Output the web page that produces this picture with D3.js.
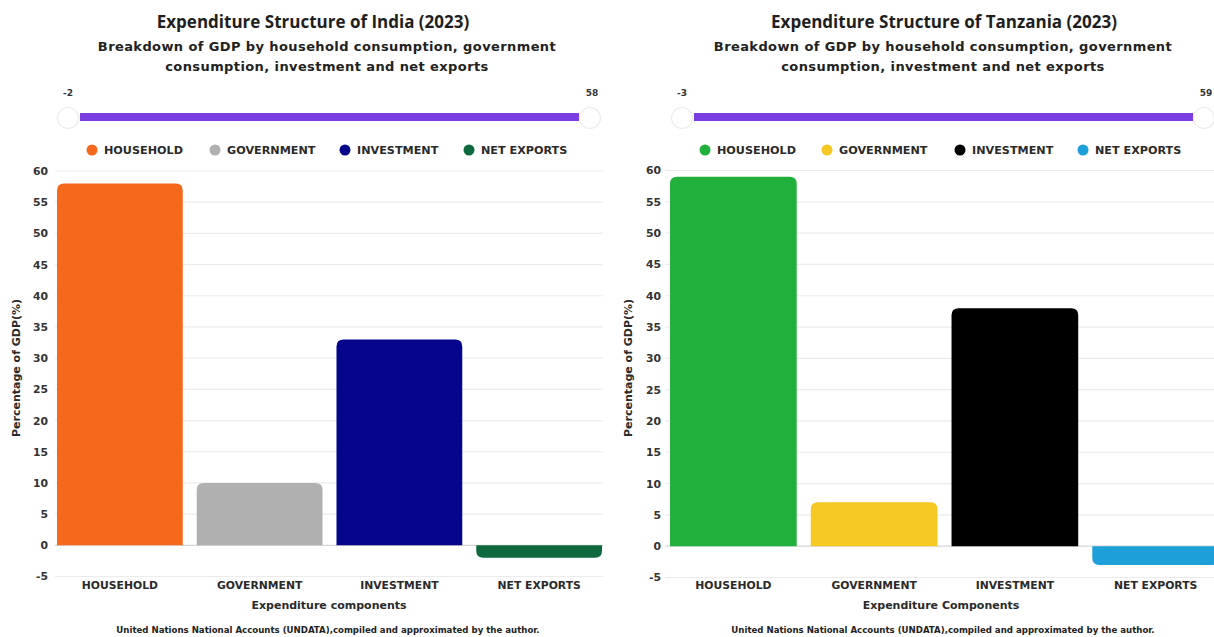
<!DOCTYPE html>
<html>
<head>
<meta charset="utf-8">
<script src="https://cdn.jsdelivr.net/npm/d3@7"></script>
<style>
  html, body { margin: 0; padding: 0; background: #fff; }
  svg { display: block; font-family: "DejaVu Sans", sans-serif; }
</style>
</head>
<body>
<svg id="chart" width="1214" height="637"></svg>
<script>
// Expenditure components shown in both panels
const categories = ["HOUSEHOLD", "GOVERNMENT", "INVESTMENT", "NET EXPORTS"];

// Share of GDP (%), 2023
const indiaValues = [58, 10, 33, -2];
const tanzaniaValues = [59, 7, 38, -3];

// Bar colours per panel
const indiaColors = ["#F5691C", "#B0B0B0", "#05058C", "#0E6A3E"];
const tanzaniaColors = ["#22B03C", "#F6C823", "#000000", "#1DA0DA"];

// Shared y ticks
const yTicks = [60, 55, 50, 45, 40, 35, 30, 25, 20, 15, 10, 5, 0, -5];

const subtitleLines = [
  "Breakdown of GDP by household consumption, government",
  "consumption, investment and net exports"
];
const sourceText = "United Nations National Accounts (UNDATA),compiled and approximated by the author.";

const labelFont = '"DejaVu Sans", sans-serif';
const titleFont = '"Open Sans", sans-serif';

const svg = d3.select("#chart");

function rounded(x, y, w, h, r, top) {
  // rectangle with rounded corners on the outer end only
  r = Math.min(r, h);
  if (top) {
    return `M${x},${y + h} L${x},${y + r} Q${x},${y} ${x + r},${y} L${x + w - r},${y} Q${x + w},${y} ${x + w},${y + r} L${x + w},${y + h} Z`;
  }
  return `M${x},${y} L${x + w},${y} L${x + w},${y + h - r} Q${x + w},${y + h} ${x + w - r},${y + h} L${x + r},${y + h} Q${x},${y + h} ${x},${y + h - r} Z`;
}

function panel(cfg) {
  const g = svg.append("g");
  const values = cfg.values;

  // Titles
  g.append("text").attr("x", cfg.titleX).attr("y", 28)
    .attr("text-anchor", "middle").attr("font-family", titleFont)
    .attr("font-size", 17).attr("font-weight", 700)
    .attr("fill", "#1e1e1e").text(cfg.title);
  subtitleLines.forEach((t, i) => {
    g.append("text").attr("x", cfg.subX).attr("y", 51 + i * 20)
      .attr("text-anchor", "middle").attr("font-size", 13).attr("font-weight", 700)
      .attr("letter-spacing", 0.4).attr("fill", "#222").text(t);
  });

  // Range slider showing min and max of the data
  const lo = d3.min(values), hi = d3.max(values);
  g.append("text").attr("x", cfg.sliderL).attr("y", 96).attr("text-anchor", "middle")
    .attr("font-size", 9).attr("font-weight", 700).attr("fill", "#333").text(String(lo));
  g.append("text").attr("x", cfg.sliderR + 2).attr("y", 96).attr("text-anchor", "middle")
    .attr("font-size", 9).attr("font-weight", 700).attr("fill", "#333").text(String(hi));
  g.append("rect").attr("x", cfg.sliderL + 12).attr("y", 113)
    .attr("width", cfg.sliderR - cfg.sliderL - 23).attr("height", 8)
    .attr("fill", "#7A3DE0");
  [cfg.sliderL, cfg.sliderR].forEach(cx => {
    g.append("circle").attr("cx", cx).attr("cy", 118).attr("r", 10.5)
      .attr("fill", "#fff").attr("stroke", "#ececec").attr("stroke-width", 1.2);
  });

  // Legend
  categories.forEach((c, i) => {
    const lx = cfg.legendX[i];
    g.append("circle").attr("cx", lx).attr("cy", 150).attr("r", 5.5).attr("fill", cfg.colors[i]);
    g.append("text").attr("x", lx + 12).attr("y", 154).attr("font-size", 11.2)
      .attr("font-weight", 700).attr("fill", "#2a2a2a").text(c);
  });

  // Scales
  const y = d3.scaleLinear().domain([-5, 60]).range([cfg.yBottom, cfg.yTop]);
  const x = d3.scaleBand().domain(categories).range(cfg.xRange)
    .paddingInner(0.1).paddingOuter(0.05);

  // Gridlines
  g.append("g").selectAll("line").data(yTicks).join("line")
    .attr("x1", cfg.gridL).attr("x2", cfg.gridR)
    .attr("y1", d => y(d)).attr("y2", d => y(d))
    .attr("stroke", d => d === 0 ? "#d6d6d6" : "#ececec").attr("stroke-width", 1.2);

  // Y axis labels
  const yAxis = d3.axisLeft(y).tickValues(yTicks).tickSize(0).tickPadding(0)
    .tickFormat(d => String(d));
  const ya = g.append("g").attr("transform", `translate(${cfg.yLabelX},0)`).call(yAxis);
  ya.select(".domain").remove();
  ya.selectAll("text").attr("font-size", 10.8).attr("font-weight", 700)
    .attr("fill", "#333").attr("font-family", labelFont);

  // Bars
  g.append("g").selectAll("path").data(values).join("path")
    .attr("d", (v, i) => {
      const bx = x(categories[i]);
      const top = y(Math.max(0, v)), bot = y(Math.min(0, v));
      return rounded(bx, top, x.bandwidth(), bot - top, 7, v >= 0);
    })
    .attr("fill", (v, i) => cfg.colors[i]);

  // X axis labels
  const xAxis = d3.axisBottom(x).tickSize(0).tickPadding(0);
  const xa = g.append("g").attr("transform", `translate(0,${cfg.xLabelY})`).call(xAxis);
  xa.select(".domain").remove();
  xa.selectAll("text").attr("font-size", 10.8).attr("font-weight", 700)
    .attr("fill", "#2a2a2a").attr("font-family", labelFont);

  // Axis titles
  g.append("text")
    .attr("transform", `translate(${cfg.yTitleX},${cfg.yTitleY}) rotate(-90)`)
    .attr("text-anchor", "middle").attr("font-size", 11).attr("font-weight", 700)
    .attr("fill", "#2a2a2a").text("Percentage of GDP(%)");
  g.append("text").attr("x", cfg.xTitleX).attr("y", 609).attr("text-anchor", "middle")
    .attr("font-size", 11).attr("font-weight", 700).attr("fill", "#2a2a2a").text(cfg.xTitle);

  // Source line
  g.append("text").attr("x", cfg.sourceX).attr("y", 633).attr("text-anchor", "middle")
    .attr("font-size", 8.6).attr("font-weight", 700).attr("fill", "#222").text(sourceText);
}

panel({
  title: "Expenditure Structure of India (2023)",
  titleX: 313, subX: 327,
  values: indiaValues, colors: indiaColors,
  sliderL: 68, sliderR: 590,
  legendX: [92, 215, 345, 469],
  yTop: 171, yBottom: 576.5,
  xRange: [50, 609],
  gridL: 55, gridR: 603,
  yLabelX: 48, xLabelY: 581,
  yTitleX: 20, yTitleY: 368,
  xTitle: "Expenditure components", xTitleX: 329,
  sourceX: 328
});

panel({
  title: "Expenditure Structure of Tanzania (2023)",
  titleX: 944, subX: 943,
  values: tanzaniaValues, colors: tanzaniaColors,
  sliderL: 682, sliderR: 1204,
  legendX: [705, 827, 960, 1083],
  yTop: 170.5, yBottom: 577.5,
  xRange: [663, 1226],
  gridL: 665, gridR: 1214,
  yLabelX: 661, xLabelY: 581,
  yTitleX: 632, yTitleY: 368,
  xTitle: "Expenditure Components", xTitleX: 941,
  sourceX: 943
});
</script>
</body>
</html>
